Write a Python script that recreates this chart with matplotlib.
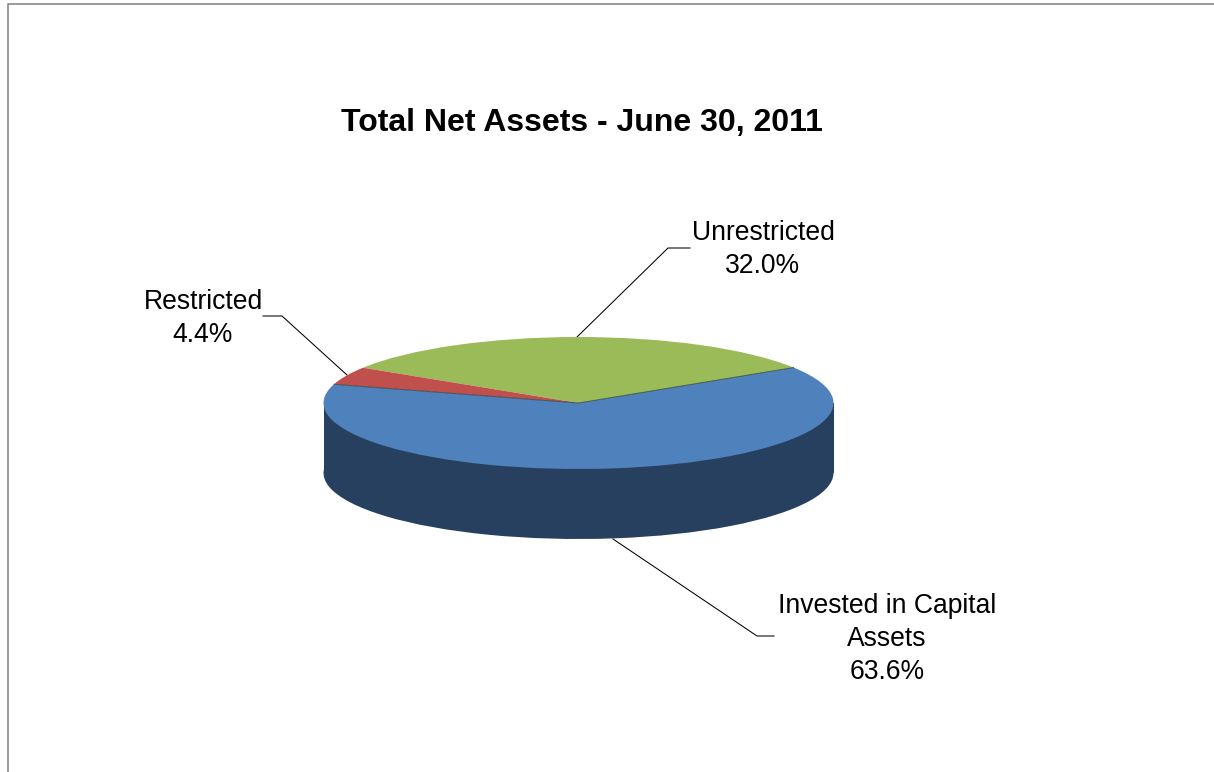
import numpy as np
import matplotlib
matplotlib.use('Agg')
import matplotlib.pyplot as plt

W, H = 1214, 772

title = 'Total Net Assets - June 30, 2011'
categories = ['Unrestricted', 'Restricted', 'Invested in Capital\nAssets']
values = [32.0, 4.4, 63.6]
value_labels = ['32.0%', '4.4%', '63.6%']
colors = ['#9BBB59', '#C0504D', '#4F81BD']
side_color = '#28405F'

plt.rcParams['font.family'] = ['Liberation Sans', 'DejaVu Sans']

fig = plt.figure(figsize=(W / 100, H / 100), dpi=100, facecolor='white')

# pixel overlay for frame, title, labels and leader lines
bg = fig.add_axes([0, 0, 1, 1])
bg.set_xlim(0, W)
bg.set_ylim(H, 0)
bg.axis('off')

# chart frame, only left and top edges are visible
bg.plot([8, 8, W], [H, 4, 4], color='#808080', lw=1.1, solid_joinstyle='miter')

bg.text(582, 122.5, title, fontsize=23, fontweight='bold', ha='center', va='center', color='black')

# squashed pie: axes box is the top ellipse of the disc
cx, cy, rx, ry, depth = 578.5, 403, 255, 66, 70
ax = fig.add_axes([(cx - rx) / W, 1 - (cy + ry) / H, 2 * rx / W, 2 * ry / H])
start = 32.5

# side wall first, then the top
ax.pie(values, colors=[side_color] * 3, startangle=start, center=(0, -depth / ry), radius=1)
ax.fill_between([-1, 1], -depth / ry, 0, color=side_color, lw=0)
ax.pie(values, colors=colors, startangle=start, radius=1)

# thin dark seams where the blue slice meets the others
a1 = np.deg2rad(start)
a2 = np.deg2rad(start + 360 * (values[0] + values[1]) / sum(values))
ax.plot([np.cos(a1), 0, np.cos(a2)], [np.sin(a1), 0, np.sin(a2)], color='#2b3a2a', lw=0.7, alpha=0.7)

ax.set_aspect('auto')
ax.set_xlim(-1, 1)
ax.set_ylim(-1, 1)
ax.axis('off')
for a in fig.axes:
    a.patch.set_alpha(0)
for art in ax.patches + ax.collections + ax.lines:
    art.set_clip_on(False)

# leader lines
leaders = [
    ([577, 668, 690], [337, 248, 248]),
    ([347, 282, 263], [375, 316, 316]),
    ([613, 757, 774], [539, 636, 636]),
]
for xs, ys in leaders:
    bg.plot(xs, ys, color='black', lw=0.75, zorder=5)

# data labels
label_pos = [(763, 249.5), (203, 318.5), (887, 639)]
for (x, y), cat, val in zip(label_pos, categories, value_labels):
    bg.text(x, y, f'{cat}\n{val}', fontsize=19.1, ha='center', va='center', color='black', linespacing=1.34)

fig.savefig('out.png', dpi=100, facecolor='white')
